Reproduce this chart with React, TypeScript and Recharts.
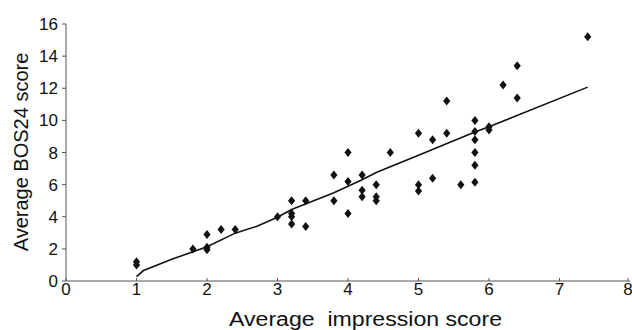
import { ScatterChart, Scatter, XAxis, YAxis } from "recharts"

// Average impression score (x) vs Average BOS24 score (y)
const impression = [
  1.0, 1.0, 1.8, 2.0, 2.0, 2.0, 2.2, 2.4, 3.0, 3.2, 3.2, 3.2, 3.2, 3.4, 3.4,
  3.8, 3.8, 4.0, 4.0, 4.0, 4.2, 4.2, 4.2, 4.4, 4.4, 4.4, 4.6, 5.0, 5.0, 5.0,
  5.2, 5.2, 5.4, 5.4, 5.6, 5.8, 5.8, 5.8, 5.8, 5.8, 5.8, 6.0, 6.0, 6.2, 6.4,
  6.4, 7.4,
]
const bos24 = [
  1.2, 1.0, 2.0, 2.9, 2.1, 1.95, 3.2, 3.2, 4.0, 5.0, 4.2, 4.0, 3.55, 5.0, 3.4,
  6.6, 5.0, 8.0, 6.2, 4.2, 6.6, 5.65, 5.25, 6.0, 5.25, 5.0, 8.0, 9.2, 6.0, 5.6,
  8.8, 6.4, 9.2, 11.2, 6.0, 10.0, 9.3, 8.8, 8.0, 7.2, 6.15, 9.6, 9.4, 12.2, 13.4,
  11.4, 15.2,
]

// fitted line
const fitX = [1.0, 1.1, 1.5, 2.0, 2.4, 2.7, 3.0, 3.2, 3.8, 4.2, 4.4, 5.0, 5.8, 6.0, 7.4]
const fitY = [0.27, 0.65, 1.35, 2.13, 2.98, 3.4, 3.97, 4.45, 5.5, 6.3, 6.75, 7.83, 9.27, 9.6, 12.07]

const xTicks = [0, 1, 2, 3, 4, 5, 6, 7, 8]
const yTicks = [0, 2, 4, 6, 8, 10, 12, 14, 16]

const points = impression.map((x, i) => ({ x, y: bos24[i] }))
const fit = fitX.map((x, i) => ({ x, y: fitY[i] }))

const font = "'Liberation Sans', Arial, sans-serif"

const Diamond = (props: any) => {
  const { cx, cy } = props
  if (cx == null || cy == null) return <g />
  return (
    <polygon
      points={`${cx},${cy - 4.5} ${cx + 3.6},${cy} ${cx},${cy + 4.5} ${cx - 3.6},${cy}`}
      fill="#111"
    />
  )
}

const XTick = (props: any) => {
  const { x, y, payload } = props
  return (
    <g>
      <line x1={x} y1={y} x2={x} y2={y - 3} stroke="#555" />
      <text x={x} y={y + 14} textAnchor="middle" fontSize={17} fill="#111" fontFamily={font}>
        {payload.value}
      </text>
    </g>
  )
}

export default function App() {
  return (
    <div style={{ position: "absolute", left: 0, top: 0, background: "#fff" }}>
      <ScatterChart
        width={632}
        height={330}
        margin={{ top: 24, right: 2, bottom: 0, left: 0 }}
      >
        <XAxis
          type="number"
          dataKey="x"
          domain={[0, 8]}
          ticks={xTicks}
          height={49}
          tickSize={0}
          tickMargin={0}
          tickLine={false}
          axisLine={{ stroke: "#555" }}
          tick={<XTick />}
        />
        <YAxis
          type="number"
          dataKey="y"
          domain={[0, 16]}
          ticks={yTicks}
          width={66}
          tickSize={4}
          tickMargin={4}
          axisLine={{ stroke: "#555" }}
          tickLine={{ stroke: "#555" }}
          tick={{ fontSize: 17, fill: "#111", fontFamily: font }}
        />
        <Scatter
          data={fit}
          line={{ stroke: "#111", strokeWidth: 1.6 }}
          lineType="joint"
          shape={() => <g />}
          isAnimationActive={false}
        />
        <Scatter data={points} shape={<Diamond />} isAnimationActive={false} />
        <text
          x={21}
          y={152}
          transform="rotate(-90 21 152)"
          textAnchor="middle"
          dominantBaseline="central"
          fontSize={20}
          fill="#111"
          fontFamily={font}
        >
          Average BOS24 score
        </text>
        <text
          x={229}
          y={326}
          textLength={273}
          lengthAdjust="spacingAndGlyphs"
          fontSize={20}
          fill="#111"
          fontFamily={font}
          style={{ whiteSpace: "pre" }}
        >
          {"Average  impression score"}
        </text>
      </ScatterChart>
    </div>
  )
}
